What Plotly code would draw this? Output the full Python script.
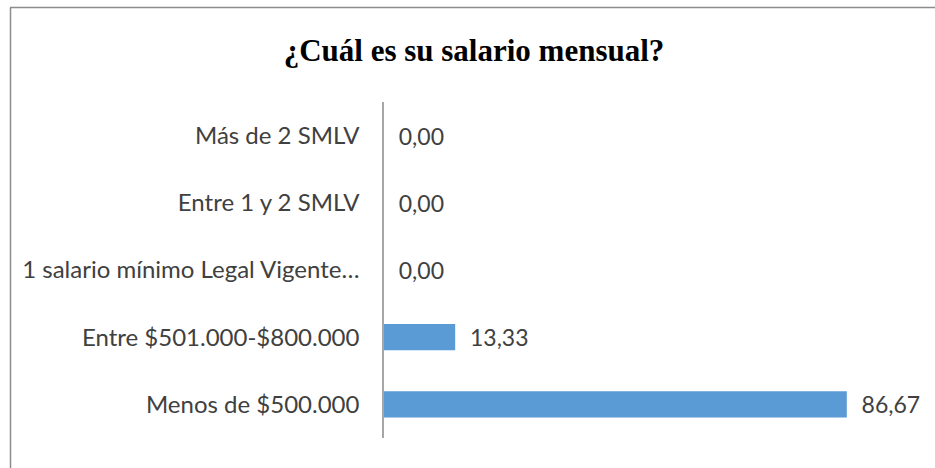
import plotly.graph_objects as go

categories = ["Menos de $500.000", "Entre $501.000-$800.000",
              "1 salario mínimo Legal Vigente…", "Entre 1 y 2 SMLV", "Más de 2 SMLV"]
values = [86.67, 13.33, 0.00, 0.00, 0.00]

W, H = 935, 468
L, R, T, B = 384, 17, 102, 30
pw, ph = W - L - R, H - T - B

def px_x(x):
    return (x - L) / pw

def px_y(y):
    return (H - B - y) / ph

fig = go.Figure(go.Bar(
    x=values, y=categories, orientation="h",
    marker=dict(color="#5B9BD5", line=dict(width=0)),
    texttemplate="\u00a0\u00a0%{x:.2f}", textposition="outside", cliponaxis=False,
    constraintext="none",
    textfont=dict(family="Lato, 'Open Sans', sans-serif", size=23, color="#404040"),
    width=0.39,
))

fig.update_layout(
    width=W, height=H,
    margin=dict(l=L, r=R, t=T, b=B),
    paper_bgcolor="white", plot_bgcolor="white",
    separators=",.",
    showlegend=False,
    title=dict(text="<b>¿Cuál es su salario mensual?</b>", x=474 / W, xanchor="center",
               y=1 - 50 / H, yanchor="middle",
               font=dict(family="'Liberation Serif', 'Times New Roman', serif", size=31, color="#000000")),
    xaxis=dict(range=[0, 100], showgrid=False, showticklabels=False, zeroline=False,
               showline=False, ticks="", fixedrange=True),
    yaxis=dict(categoryorder="array", categoryarray=categories, showgrid=False,
               showline=True, linecolor="#A6A6A6", linewidth=1.5, ticks="",
               ticklabelstandoff=18, automargin=False,
               tickfont=dict(family="Lato, 'Open Sans', sans-serif", size=24, color="#404040")),
    shapes=[
        dict(type="line", xref="paper", yref="paper", x0=px_x(10), x1=px_x(935),
             y0=px_y(7.5), y1=px_y(7.5), line=dict(color="#8C8C8C", width=1.5)),
        dict(type="line", xref="paper", yref="paper", x0=px_x(10.5), x1=px_x(10.5),
             y0=px_y(7.5), y1=px_y(468), line=dict(color="#8C8C8C", width=1.5)),
    ],
)

fig.write_html("out.html", config={"displayModeBar": False},
               post_script="document.body.style.margin='0';document.body.style.overflow='hidden';")
